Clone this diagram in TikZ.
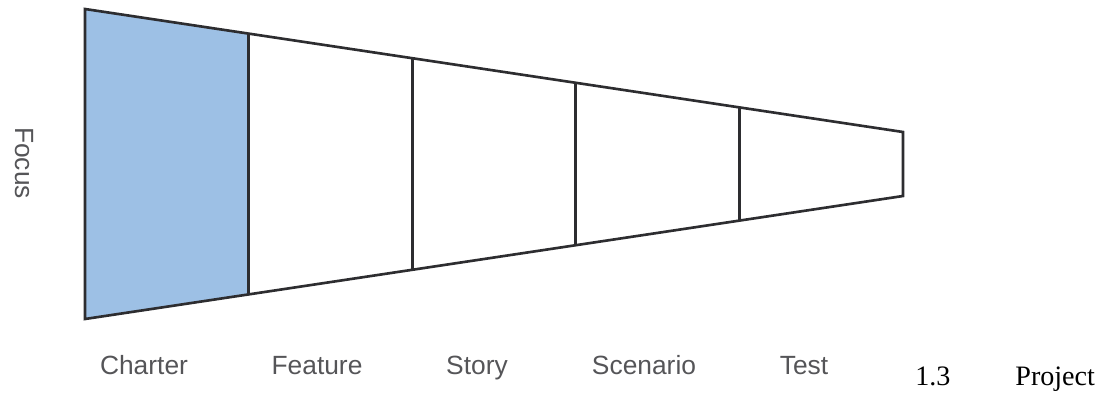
\documentclass[tikz,border=0pt]{standalone}
\usepackage{fontspec}
\setmainfont{Liberation Serif}
\newfontfamily\labelfont{Liberation Sans}
\usepackage{xcolor}
\usepackage{tikz}
\usetikzlibrary{
calc,
positioning
}
\definecolor{funnelblue}{RGB}{157,192,229}
\definecolor{funnelline}{RGB}{45,45,48}
\definecolor{funneltext}{RGB}{85,85,88}

\tikzset{
  stagelabel/.style={font=\labelfont\fontsize{15}{18}\selectfont, text=funneltext, inner sep=0pt},
  divider/.style={funnelline, line width=1.5pt}
}

\begin{document}
\begin{tikzpicture}

\useasboundingbox (0,0) rectangle (22.12,7.96);

% Funnel corners
\coordinate (tl) at (1.7,7.78);
\coordinate (bl) at (1.7,1.58);
\coordinate (tr) at (18.06,5.32);
\coordinate (br) at (18.06,4.04);

% Charter stage (filled)
\fill[funnelblue] (tl) -- ($(tl)!0.2!(tr)$) -- ($(bl)!0.2!(br)$) -- (bl) -- cycle;

% Outline
\draw[divider, line join=miter] (tl) -- (tr) -- (br) -- (bl) -- cycle;

% Stage dividers
\foreach \t in {0.2,0.4,0.6,0.8}
  \draw[divider] ($(tl)!\t!(tr)$) -- ($(bl)!\t!(br)$);

% Stage labels
\node[stagelabel, anchor=base] (charter)  at (2.88,0.47)  {Charter};
\node[stagelabel, anchor=base] (feature)  at (6.34,0.47)  {Feature};
\node[stagelabel, anchor=base] (story)    at (9.54,0.47)  {Story};
\node[stagelabel, anchor=base] (scenario) at (12.88,0.47) {Scenario};
\node[stagelabel, anchor=base] (test)     at (16.08,0.47) {Test};

% Axis label
\node[stagelabel, rotate=-90] (focus) at (0.48,4.7) {Focus};

% Caption fragment
\node[anchor=base west, inner sep=0pt, font=\fontsize{16}{19}\selectfont] (capnum) at (18.3,0.26) {1.3};
\node[anchor=base west, inner sep=0pt, font=\fontsize{16}{19}\selectfont] (captext) at (20.3,0.26) {Project};

\end{tikzpicture}
\end{document}
